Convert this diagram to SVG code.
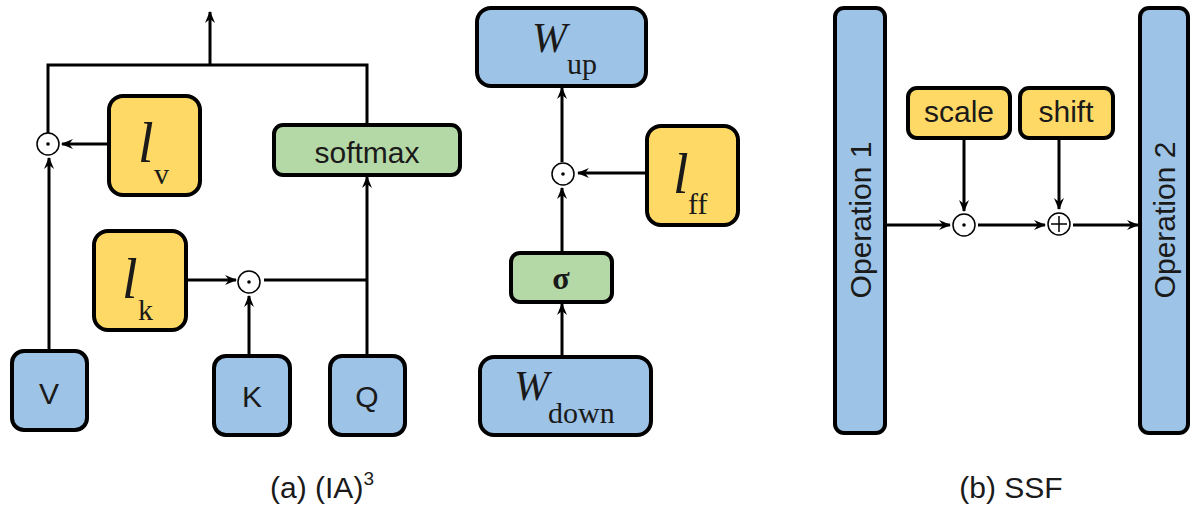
<svg xmlns="http://www.w3.org/2000/svg" width="1200" height="510" viewBox="0 0 1200 510">
<defs>
<marker id="ah" viewBox="0 0 12 10" refX="11" refY="5" markerWidth="12" markerHeight="10" markerUnits="userSpaceOnUse" orient="auto"><path d="M0,0 L12,5 L0,10 L4,5 Z" fill="#000"/></marker>
</defs>
<style>
.b{fill:#9dc3e6;stroke:#000;stroke-width:4}
.y{fill:#ffd966;stroke:#000;stroke-width:4}
.g{fill:#b5d9a6;stroke:#000;stroke-width:4}
.s{font-family:"Liberation Sans",Arial,sans-serif;fill:#1a1a1a;text-anchor:middle}
.m{font-family:"Liberation Serif","Times New Roman",serif;fill:#1a1a1a}
.c{fill:#fff;stroke:#000;stroke-width:1.5}
.l{stroke:#000;stroke-width:3;fill:none}
.a{stroke:#000;stroke-width:3;fill:none;marker-end:url(#ah)}
</style>
<g id="connectors">
<path class="a" d="M210,65 V12"/>
<path class="l" d="M48,134 V65 H367 V125"/>
<path class="a" d="M108,144 H62"/>
<path class="a" d="M49,350 V158"/>
<path class="a" d="M186,280 H236"/>
<path class="l" d="M264,280 H367"/>
<path class="a" d="M249,355 V296"/>
<path class="a" d="M367,355 V177"/>
<path class="a" d="M562,162 V88"/>
<path class="a" d="M646,173 H578"/>
<path class="a" d="M562,252 V188"/>
<path class="a" d="M562,357 V304"/>
<path class="a" d="M964,138 V211"/>
<path class="a" d="M1059,138 V209"/>
<path class="a" d="M886,225 H950"/>
<path class="a" d="M978,225 H1045"/>
<path class="a" d="M1073,225 H1138"/>
</g>
<g id="ops">
<circle class="c" cx="48" cy="144" r="11"/><circle cx="48" cy="144" r="1.8"/>
<circle class="c" cx="249" cy="282" r="11"/><circle cx="249" cy="282" r="1.8"/>
<circle class="c" cx="563" cy="174" r="11"/><circle cx="563" cy="174" r="1.8"/>
<circle class="c" cx="964" cy="225" r="11"/><circle cx="964" cy="225" r="1.8"/>
<circle class="c" cx="1059" cy="224" r="11"/><path d="M1051,224 H1067 M1059,216 V232" stroke="#000" stroke-width="1.5"/>
</g>
<g id="V"><rect class="b" x="12" y="351" width="75" height="79" rx="12"/><text class="s" x="49" y="404" font-size="30">V</text></g>
<g id="K"><rect class="b" x="214" y="356" width="76" height="79" rx="12"/><text class="s" x="252" y="407" font-size="30">K</text></g>
<g id="Q"><rect class="b" x="330" y="356" width="75" height="79" rx="12"/><text class="s" x="367" y="407" font-size="30">Q</text></g>
<g id="lv"><rect class="y" x="109" y="96" width="91" height="99" rx="14"/><text class="m" x="138" y="162" font-size="56" font-style="italic">l</text><text class="m" x="154" y="184" font-size="30">v</text></g>
<g id="lk"><rect class="y" x="94" y="231" width="92" height="99" rx="14"/><text class="m" x="122" y="298" font-size="56" font-style="italic">l</text><text class="m" x="138" y="320" font-size="30">k</text></g>
<g id="softmax"><rect class="g" x="274" y="125" width="186" height="50" rx="9"/><text class="s" x="367" y="163" font-size="30">softmax</text></g>
<g id="Wup"><rect class="b" x="477" y="8" width="169" height="78" rx="14"/><text class="m" x="532" y="52" font-size="42" font-style="italic">W</text><text class="m" x="567" y="74" font-size="30">up</text></g>
<g id="lff"><rect class="y" x="647" y="126" width="91" height="99" rx="14"/><text class="m" x="673" y="193" font-size="56" font-style="italic">l</text><text class="m" x="688" y="214" font-size="30">ff</text></g>
<g id="sigma"><rect class="g" x="511" y="253" width="101" height="49" rx="9"/><text class="m" x="561" y="289" font-size="32" font-weight="bold" text-anchor="middle">σ</text></g>
<g id="Wdown"><rect class="b" x="480" y="357" width="171" height="78" rx="14"/><text class="m" x="514" y="400" font-size="42" font-style="italic">W</text><text class="m" x="548" y="423" font-size="30">down</text></g>
<g id="op1"><rect class="b" x="835" y="8" width="50" height="425" rx="9"/><text class="s" font-size="30" transform="translate(871,220) rotate(-90)">Operation 1</text></g>
<g id="op2"><rect class="b" x="1140" y="8" width="48" height="425" rx="9"/><text class="s" font-size="30" transform="translate(1175,220) rotate(-90)">Operation 2</text></g>
<g id="scale"><rect class="y" x="908" y="88" width="102" height="50" rx="9"/><text class="s" x="959" y="122" font-size="30">scale</text></g>
<g id="shift"><rect class="y" x="1020" y="88" width="93" height="50" rx="9"/><text class="s" x="1066" y="122" font-size="30">shift</text></g>
<text class="s" x="322" y="498" font-size="30">(a) (IA)<tspan font-size="19" dy="-13">3</tspan></text>
<text class="s" x="1011" y="498" font-size="30">(b) SSF</text>
</svg>
